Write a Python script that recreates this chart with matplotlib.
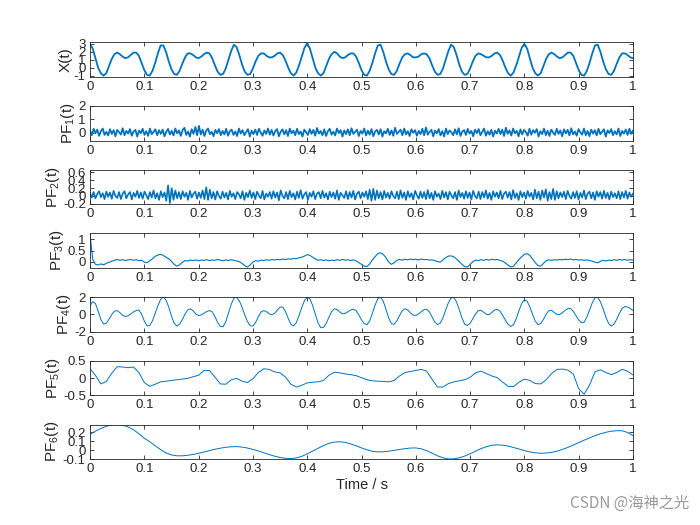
import numpy as np
import matplotlib
matplotlib.use('Agg')
import matplotlib.pyplot as plt

plt.rcParams['font.family'] = ['Liberation Sans', 'DejaVu Sans']
plt.rcParams['mathtext.fontset'] = 'custom'
plt.rcParams['mathtext.rm'] = 'Liberation Sans'
plt.rcParams['mathtext.default'] = 'regular'

x_sig = [3.0, 2.4, 1.2, 0.0, -0.7, -1.0, -0.7, 0.2, 1.1, 1.7, 1.9, 1.7, 1.4, 1.2, 1.3, 1.6, 1.9, 1.9, 1.5, 0.6,
         -0.3, -0.9, -1.0, -0.4, 0.6, 1.8, 2.8,
         2.8, 2.0, 0.8, -0.2, -0.8, -0.9, -0.4, 0.5, 1.3, 1.8, 1.8, 1.6, 1.3, 1.2, 1.4, 1.7, 1.9, 1.8, 1.2, 0.3,
         -0.5, -0.9, -0.8, -0.1, 1.0, 2.1, 2.9,
         2.6, 1.6, 0.4, -0.5, -0.9, -0.8, -0.1, 0.8, 1.5, 1.8, 1.8, 1.5, 1.3, 1.3, 1.5, 1.8, 1.9, 1.6, 0.9, 0.0,
         -0.7, -1.0, -0.6, 0.3, 1.4, 2.5,
         3.1, 2.4, 1.2, 0.0, -0.7, -1.0, -0.7, 0.2, 1.1, 1.7, 2.0, 1.8, 1.4, 1.2, 1.3, 1.6, 1.8, 1.8, 1.4, 0.6,
         -0.3, -0.9, -1.0, -0.4, 0.6, 1.8, 2.8,
         2.9, 2.0, 0.8, -0.2, -0.8, -0.9, -0.4, 0.5, 1.3, 1.7, 1.8, 1.6, 1.3, 1.3, 1.4, 1.7, 1.8, 1.7, 1.2, 0.3,
         -0.5, -0.9, -0.8, -0.1, 1.0, 2.1, 2.9,
         2.6, 1.6, 0.4, -0.5, -0.9, -0.8, -0.1, 0.8, 1.5, 1.8, 1.7, 1.5, 1.3, 1.3, 1.5, 1.8, 1.9, 1.6, 0.9, 0.0,
         -0.7, -1.0, -0.6, 0.3, 1.4, 2.5,
         3.0, 2.4, 1.2, 0.0, -0.7, -1.0, -0.7, 0.2, 1.1, 1.7, 1.9, 1.7, 1.4, 1.2, 1.3, 1.6, 1.9, 1.9, 1.5, 0.6,
         -0.3, -0.9, -1.0, -0.4, 0.6, 1.8, 2.8,
         2.9, 2.0, 0.8, -0.2, -0.8, -0.9, -0.4, 0.5, 1.3, 1.8, 1.8, 1.6, 1.3, 1.2]

pf1 = [0.15, -0.2, 0.28, -0.05, 0.22, -0.25, 0.1, 0.3, -0.18, 0.05,
       -0.22, 0.25, -0.1, 0.18, -0.28, 0.2, 0.02, -0.15, 0.32, -0.2,
       0.12, -0.08, 0.26, -0.24, 0.08, 0.2, -0.3, 0.15, -0.05, 0.28,
       -0.18, 0.1, -0.25, 0.3, -0.12, 0.05, 0.24, -0.2, 0.18, -0.1,
       0.22, -0.28, 0.06, 0.27, -0.15, 0.12, -0.22, 0.3, -0.06, 0.16,
       -0.25, 0.2, 0.35, -0.18, 0.08, -0.3, 0.25, -0.1, 0.42, -0.2,
       0.5, -0.15, 0.22, -0.26, 0.14, 0.3, -0.12, 0.05, -0.28, 0.2,
       -0.05, 0.26, -0.2, 0.12, -0.14, 0.28, -0.24, 0.1, 0.22, -0.18,
       0.08, -0.26, 0.3, -0.08, 0.18, -0.2, 0.04, 0.25, -0.3, 0.14,
       -0.12, 0.22, -0.18, 0.28, 0.0, -0.24, 0.16, -0.1, 0.3, -0.16,
       0.2, -0.22, 0.1, 0.26, -0.28, 0.06, 0.24, -0.14, 0.18, -0.26,
       0.3, -0.05, 0.14, -0.2, 0.28, -0.12, 0.08, -0.3, 0.22, 0.02,
       -0.18, 0.26, -0.1, 0.2, -0.24, 0.34, -0.08, 0.12, -0.2, 0.24,
       -0.26, 0.1, 0.28, -0.16, 0.06, -0.22, 0.3, -0.04, 0.18, -0.3,
       0.16, -0.12, 0.24, -0.2, 0.32, -0.1, 0.04, 0.22, -0.26, 0.12,
       -0.08, 0.3, -0.22, 0.14, -0.16, 0.26, -0.28, 0.08, 0.2, -0.14,
       0.25, -0.3, 0.1, -0.06, 0.28, -0.18, 0.16, -0.24, 0.36, -0.1,
       0.05, 0.22, -0.2, 0.3, -0.14, 0.1, -0.26, 0.24, -0.02, 0.18,
       -0.24, 0.12, -0.12, 0.28, -0.2, 0.38, -0.16, 0.06, 0.2, -0.28,
       0.14, -0.06, 0.26, -0.22, 0.1, -0.3, 0.3, -0.12, 0.16, 0.02,
       -0.2, 0.24, -0.14, 0.32, -0.26, 0.08, 0.18, -0.18, 0.28, -0.08,
       0.12, -0.28, 0.22, -0.04, 0.26, -0.2, 0.06, 0.3, -0.24, 0.1,
       -0.16, 0.2, -0.3, 0.14, -0.08, 0.28, -0.12, 0.22, -0.26, 0.36,
       -0.1, 0.16, -0.22, 0.3, -0.06, 0.12, -0.28, 0.24, -0.14, 0.2,
       0.04, -0.24, 0.28, -0.16, 0.18, -0.02, 0.26, -0.3, 0.1, -0.12,
       0.3, -0.2, 0.14, -0.26, 0.22, 0.0, -0.18, 0.28, -0.1, 0.16,
       -0.28, 0.24, -0.06, 0.2, -0.22, 0.32, -0.14, 0.08, -0.24, 0.26,
       0.02, -0.16, 0.3, -0.2, 0.12, -0.28, 0.22, -0.08, 0.18, -0.22,
       0.28, -0.12, 0.06, 0.24, -0.3, 0.16, -0.04, 0.26, -0.2, 0.1,
       -0.14, 0.3, -0.26, 0.12, -0.08, 0.22, -0.18, 0.28, -0.1, 0.15]

pf2 = [0.08, -0.04, 0.1, -0.06, 0.05, 0.12, -0.03, 0.07, -0.08, 0.11,
       -0.02, 0.09, -0.07, 0.13, 0.0, -0.05, 0.1, -0.08, 0.06, 0.12,
       -0.06, 0.04, 0.1, -0.09, 0.08, -0.02, 0.13, -0.05, 0.09, -0.07,
       0.11, 0.02, -0.08, 0.1, -0.04, 0.14, -0.06, 0.07, -0.1, 0.12,
       -0.03, 0.09, -0.12, 0.27, -0.18, 0.2, -0.1, 0.14, -0.06, 0.1,
       -0.08, 0.12, -0.02, 0.08, -0.1, 0.13, -0.04, 0.06, 0.11, -0.07,
       0.09, -0.05, 0.14, -0.08, 0.22, -0.1, 0.16, -0.06, 0.1, -0.09,
       0.12, 0.0, -0.07, 0.11, -0.04, 0.08, -0.09, 0.13, -0.02, 0.07,
       -0.08, 0.1, 0.04, -0.06, 0.12, -0.1, 0.08, -0.03, 0.14, -0.05,
       0.09, -0.08, 0.11, 0.01, -0.06, 0.13, -0.09, 0.06, -0.02, 0.1,
       -0.07, 0.12, -0.04, 0.09, -0.11, 0.14, 0.0, -0.06, 0.1, -0.08,
       0.13, -0.03, 0.07, -0.09, 0.11, -0.05, 0.15, -0.07, 0.04, 0.1,
       -0.1, 0.08, -0.02, 0.12, -0.08, 0.06, 0.1, -0.06, 0.13, -0.04,
       0.07, -0.09, 0.11, -0.03, 0.09, -0.07, 0.14, -0.1, 0.08, 0.02,
       -0.05, 0.12, -0.08, 0.1, -0.04, 0.13, -0.09, 0.06, 0.11, -0.06,
       0.09, -0.02, 0.12, -0.08, 0.16, -0.12, 0.18, -0.1, 0.14, -0.06,
       0.1, -0.09, 0.13, -0.04, 0.08, -0.07, 0.12, 0.0, -0.06, 0.11,
       -0.08, 0.14, -0.05, 0.09, -0.1, 0.12, -0.03, 0.07, -0.09, 0.13,
       0.02, -0.07, 0.11, -0.05, 0.1, -0.08, 0.15, -0.06, 0.08, -0.1,
       0.12, -0.02, 0.06, -0.08, 0.13, -0.04, 0.1, -0.09, 0.11, 0.01,
       -0.06, 0.1, -0.1, 0.14, -0.03, 0.08, -0.07, 0.12, -0.05, 0.09,
       -0.09, 0.13, 0.0, -0.06, 0.11, -0.08, 0.1, -0.04, 0.14, -0.07,
       0.08, -0.1, 0.12, -0.02, 0.09, -0.06, 0.13, -0.08, 0.06, 0.11,
       -0.04, 0.1, -0.09, 0.15, -0.05, 0.07, -0.1, 0.12, -0.03, 0.09,
       -0.07, 0.13, -0.02, 0.08, -0.09, 0.16, -0.06, 0.11, -0.1, 0.14,
       -0.04, 0.17, -0.12, 0.1, -0.08, 0.18, -0.1, 0.12, -0.06, 0.09,
       -0.03, 0.11, -0.08, 0.13, 0.0, -0.07, 0.1, -0.05, 0.12, -0.09,
       0.08, -0.04, 0.14, -0.08, 0.06, 0.11, -0.06, 0.09, -0.1, 0.12,
       -0.02, 0.1, -0.07, 0.13, -0.05, 0.08, -0.09, 0.11, -0.03, 0.07,
       -0.06, 0.12, -0.08, 0.1, -0.04, 0.13, -0.07, 0.09, -0.02, 0.06]

pf3 = [1.25, 0.1, -0.12, -0.15, -0.1, -0.14, -0.08, -0.03, 0.02, 0.06,
       0.1, 0.06, 0.09, 0.05, 0.08, 0.1, 0.06, 0.09, 0.04, 0.07,
       -0.02, -0.05, 0.04, 0.13, 0.24, 0.3, 0.33, 0.28, 0.2, 0.13,
       0.02, -0.12, -0.2, -0.14, -0.03, 0.05, 0.03, 0.07, 0.05, 0.08,
       0.04, 0.07, 0.06, 0.09, 0.05, 0.08, 0.06, 0.1, 0.07, 0.04,
       0.08, 0.05, 0.09, 0.06, 0.03, 0.0, -0.08, -0.18, -0.24, -0.15,
       -0.02, 0.05, 0.02, 0.07, 0.05, 0.09, 0.06, 0.1, 0.07, 0.11,
       0.08, 0.12, 0.09, 0.13, 0.11, 0.15, 0.13, 0.18, 0.2, 0.25,
       0.32, 0.28, 0.2, 0.12, 0.06, 0.09, 0.05, 0.08, 0.04, 0.07,
       0.05, 0.09, 0.06, 0.1, 0.07, 0.09, 0.05, 0.08, 0.04, -0.04,
       -0.12, -0.2, -0.22, -0.1, 0.08, 0.22, 0.36, 0.4, 0.33, 0.18,
       -0.02, -0.12, -0.05, 0.06, 0.1, 0.07, 0.11, 0.08, 0.12, 0.09,
       0.11, 0.08, 0.12, 0.09, 0.1, 0.07, 0.08, 0.05, 0.0, -0.02,
       0.08, 0.18, 0.25, 0.26, 0.22, 0.12, 0.0, -0.12, -0.22, -0.24,
       -0.12, 0.0, 0.07, 0.05, 0.09, 0.06, 0.1, 0.07, 0.11, 0.08,
       0.1, 0.06, 0.02, -0.06, -0.16, -0.24, -0.2, -0.05, 0.1, 0.22,
       0.33, 0.36, 0.28, 0.12, -0.04, -0.18, -0.2, -0.08, 0.04, 0.08,
       0.06, 0.09, 0.07, 0.1, 0.08, 0.11, 0.09, 0.12, 0.08, 0.1,
       0.07, 0.09, 0.06, 0.08, 0.05, 0.02, -0.02, -0.05, 0.02, 0.06,
       0.03, 0.07, 0.05, 0.09, 0.06, 0.1, 0.07, 0.1, 0.06, 0.09,
       0.07]

pf4 = [1.0, 1.48, 1.25, 0.39, -0.6, -1.13, -1.03, -0.57, -0.02, 0.37,
       0.43, 0.2, -0.11, -0.25, -0.17, 0.03, 0.27, 0.45, 0.49, 0.03,
       -0.77, -1.34, -1.3, -0.75, 0.1, 1.0, 1.73, 2.0, 1.68, 0.84,
       -0.19, -1.03, -1.35, -1.15, -0.61, 0.03, 0.51, 0.64, 0.4, 0.03,
       -0.15, -0.07, 0.13, 0.33, 0.44, 0.3, -0.25, -0.93, -1.4, -1.44,
       -0.87, 0.14, 1.16, 1.89, 1.96, 1.57, 0.83, -0.07, -0.82, -1.32,
       -1.36, -0.94, -0.27, 0.28, 0.44, 0.3, 0.06, -0.05, 0.12, 0.51,
       0.83, 0.85, 0.34, -0.47, -1.15, -1.34, -0.96, -0.14, 0.79, 1.6,
       1.99, 1.8, 1.03, -0.02, -0.99, -1.55, -1.51, -1.04, -0.34, 0.32,
       0.64, 0.55, 0.26, 0.06, 0.11, 0.3, 0.51, 0.6, 0.42, -0.07,
       -0.64, -1.07, -1.19, -0.78, 0.11, 1.07, 1.81, 1.99, 1.53, 0.6,
       -0.4, -1.08, -1.16, -0.76, -0.15, 0.43, 0.65, 0.51, 0.18, -0.09,
       -0.13, 0.04, 0.31, 0.53, 0.59, 0.29, -0.3, -0.89, -1.18, -1.02,
       -0.4, 0.5, 1.33, 1.9, 1.95, 1.44, 0.55, -0.41, -1.14, -1.29,
       -1.04, -0.51, 0.05, 0.43, 0.48, 0.25, 0.0, -0.03, 0.22, 0.51,
       0.59, 0.37, -0.12, -0.68, -1.16, -1.39, -1.21, -0.5, 0.43, 1.27,
       1.69, 1.53, 0.86, -0.01, -0.79, -1.19, -1.07, -0.59, 0.0, 0.42,
       0.47, 0.22, -0.02, -0.01, 0.19, 0.46, 0.66, 0.67, 0.36, -0.15,
       -0.66, -0.97, -0.9, -0.34, 0.5, 1.34, 1.91, 1.96, 1.46, 0.63,
       -0.31, -1.05, -1.35, -1.14, -0.57, 0.12, 0.69, 0.9, 0.85, 0.68,
       0.45]

pf5 = [0.27, 0.08, -0.17, -0.1, 0.14, 0.33, 0.32, 0.3, 0.32, 0.16,
       -0.13, -0.24, -0.18, -0.11, -0.09, -0.07, -0.05, -0.03, -0.01, 0.04,
       0.08, 0.22, 0.22, 0.03, -0.17, -0.18, -0.05, -0.01, -0.09, -0.13,
       -0.02, 0.16, 0.27, 0.25, 0.18, 0.15, 0.03, -0.18, -0.26, -0.21,
       -0.14, -0.12, -0.11, -0.07, 0.08, 0.17, 0.15, 0.12, 0.1, 0.07,
       0.01, -0.05, -0.08, -0.09, -0.1, -0.11, -0.07, 0.06, 0.16, 0.19,
       0.22, 0.25, 0.2, -0.04, -0.26, -0.26, -0.16, -0.11, -0.08, -0.05,
       0.02, 0.15, 0.2, 0.13, 0.06, 0.01, -0.12, -0.24, -0.25, -0.12,
       -0.03, -0.07, -0.16, -0.17, -0.05, 0.13, 0.25, 0.26, 0.23, 0.12,
       -0.31, -0.47, -0.2, 0.18, 0.24, 0.16, 0.1, 0.16, 0.25, 0.2,
       0.09]

pf6 = [0.18, 0.215, 0.245, 0.27, 0.285, 0.29, 0.283, 0.263, 0.232, 0.185,
       0.135, 0.096, 0.049, 0.006, -0.031, -0.054, -0.064, -0.064, -0.058, -0.049,
       -0.035, -0.021, -0.005, 0.01, 0.022, 0.033, 0.038, 0.04, 0.035, 0.024,
       0.008, -0.009, -0.03, -0.05, -0.068, -0.083, -0.092, -0.095, -0.088, -0.07,
       -0.042, -0.011, 0.021, 0.051, 0.077, 0.091, 0.095, 0.088, 0.071, 0.05,
       0.025, 0.004, -0.013, -0.02, -0.018, -0.012, -0.003, 0.008, 0.017, 0.024,
       0.025, 0.015, -0.006, -0.034, -0.064, -0.086, -0.099, -0.098, -0.087, -0.067,
       -0.041, -0.011, 0.017, 0.039, 0.055, 0.06, 0.056, 0.046, 0.03, 0.013,
       -0.005, -0.02, -0.03, -0.035, -0.032, -0.025, -0.011, 0.008, 0.031, 0.057,
       0.085, 0.113, 0.138, 0.164, 0.185, 0.202, 0.214, 0.22, 0.219, 0.2,
       0.165]

signals = [x_sig, pf1, pf2, pf3, pf4, pf5, pf6]
ylabels = ['X(t)', 'PF$_1$(t)', 'PF$_2$(t)', 'PF$_3$(t)', 'PF$_4$(t)', 'PF$_5$(t)', 'PF$_6$(t)']
ylims = [(-1.15, 3.2), (-0.6, 2), (-0.21, 0.67), (-0.28, 1.27), (-2, 2), (-0.5, 0.5), (-0.1, 0.29)]
yticks = [[-1, 0, 1, 2, 3], [0, 1, 2], [-0.2, 0, 0.2, 0.4, 0.6], [0, 0.5, 1],
          [-2, 0, 2], [-0.5, 0, 0.5], [-0.1, 0, 0.1, 0.2]]
yticklabels = [['-1', '0', '1', '2', '3'], ['0', '1', '2'], ['-0.2', '0', '0.2', '0.4', '0.6'],
               ['0', '0.5', '1'], ['-2', '0', '2'], ['-0.5', '0', '0.5'], ['-0.1', '0', '0.1', '0.2']]
xticks = [0, 0.1, 0.2, 0.3, 0.4, 0.5, 0.6, 0.7, 0.8, 0.9, 1]
xticklabels = ['0', '0.1', '0.2', '0.3', '0.4', '0.5', '0.6', '0.7', '0.8', '0.9', '1']
linewidths = [1.3, 1.3, 1.2, 0.8, 0.7, 0.7, 0.7]

W, H = 700, 525
fig = plt.figure(figsize=(7, 5.25), dpi=100)
blue = '#0072BD'

for i, sig in enumerate(signals):
    top = 42.3 + 63.7 * i
    ax = fig.add_axes([90 / W, 1 - (top + 34.5) / H, 543 / W, 34.5 / H])
    t = np.linspace(0, 1, len(sig))
    ax.plot(t, sig, color=blue, lw=linewidths[i])
    ax.set_xlim(0, 1)
    ax.set_ylim(*ylims[i])
    ax.set_xticks(xticks)
    ax.set_xticklabels(xticklabels)
    ax.set_yticks(yticks[i])
    ax.set_yticklabels(yticklabels[i])
    ax.tick_params(direction='in', top=True, right=True, length=3, width=0.6,
                   labelsize=9.5, pad=3, colors='#262626')
    for s in ax.spines.values():
        s.set_linewidth(0.6)
        s.set_color('#262626')
    ax.set_ylabel(ylabels[i], fontsize=11, labelpad=1, color='#262626')
    if i == 6:
        ax.set_xlabel('Time / s', fontsize=10.5, labelpad=2, color='#262626')

fig.text(0.985, 0.025, 'CSDN @海神之光', ha='right', va='bottom', fontsize=11, color='#9a9a9a',
         family=['Noto Sans CJK SC', 'DejaVu Sans'])

fig.savefig('out.png', dpi=100)
